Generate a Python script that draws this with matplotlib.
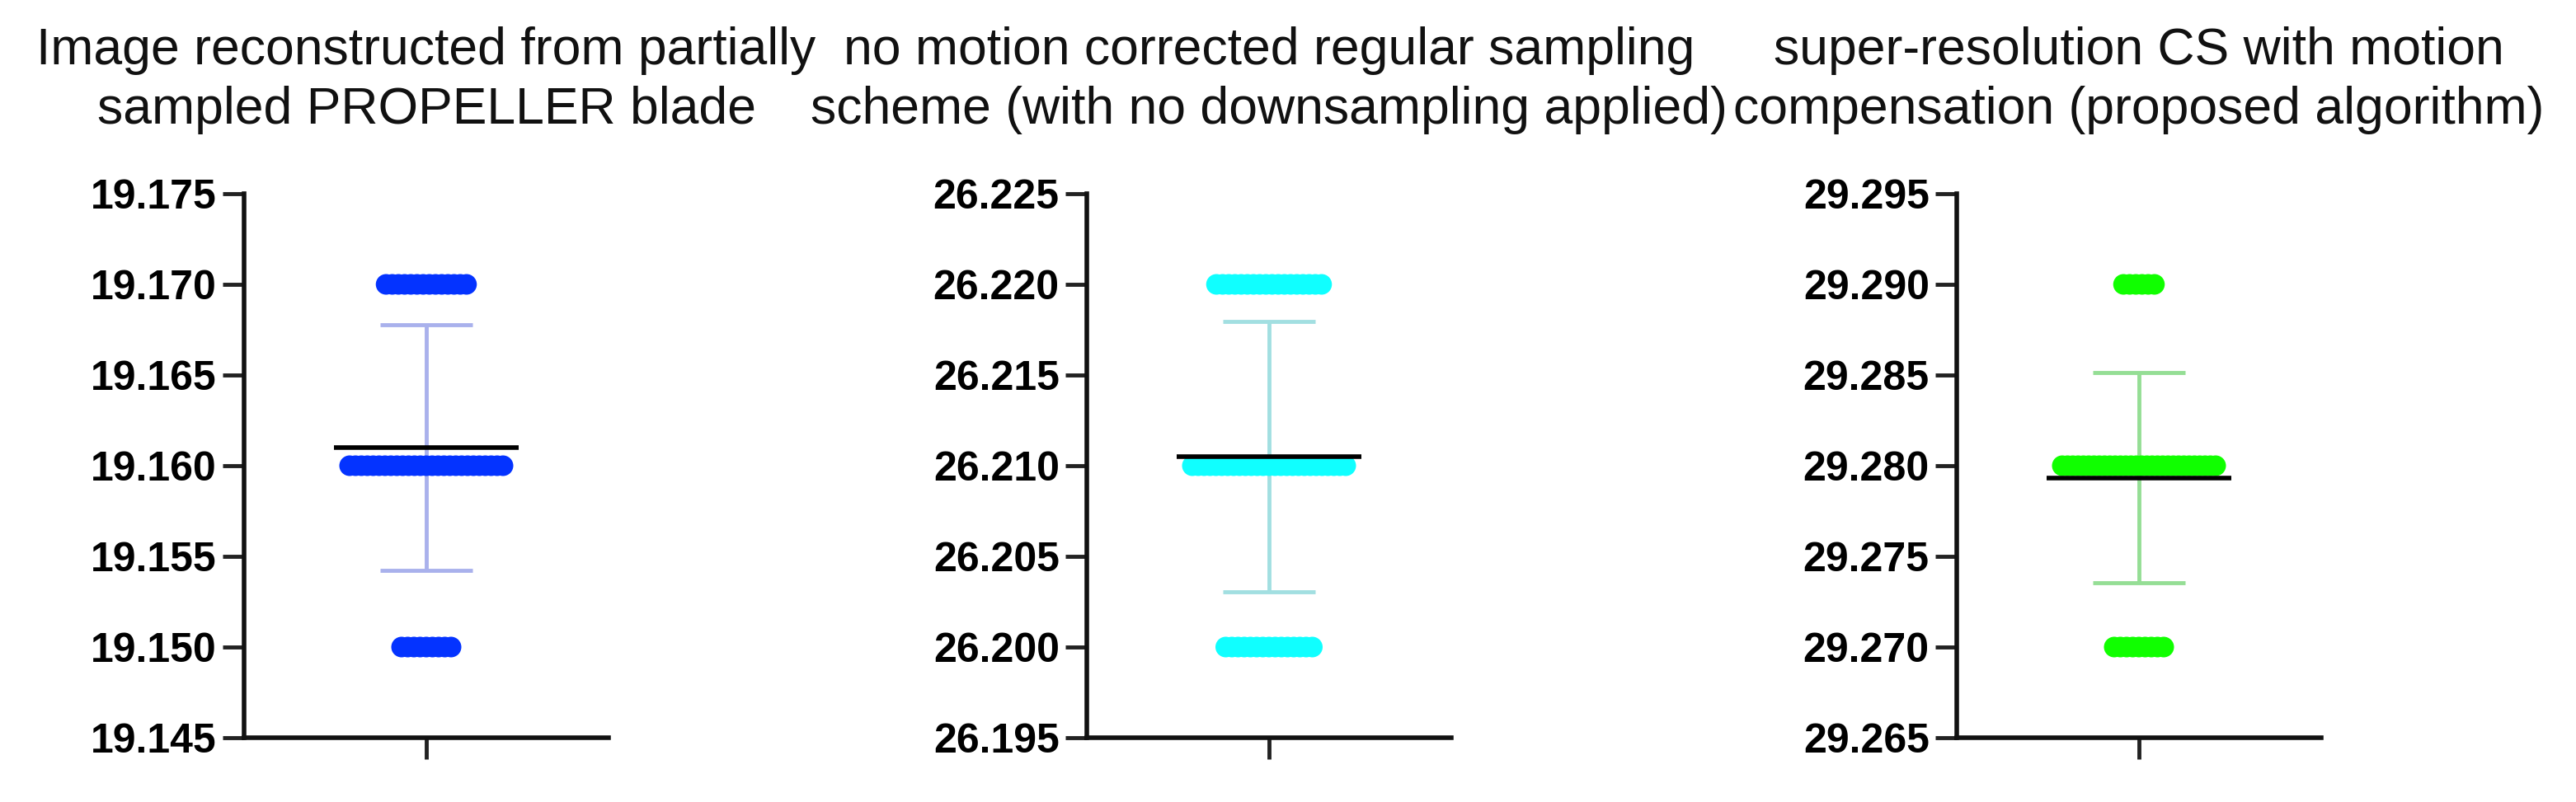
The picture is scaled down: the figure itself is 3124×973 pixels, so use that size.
import numpy as np
import matplotlib as mpl
mpl.use('Agg')
import matplotlib.pyplot as plt

plt.rcParams['font.family'] = ['Liberation Sans', 'DejaVu Sans']

# panel titles (two lines each)
titles = [
    ['Image reconstructed from partially', 'sampled PROPELLER blade'],
    ['no motion corrected regular sampling', 'scheme (with no downsampling applied)'],
    ['super-resolution CS with motion', 'compensation (proposed algorithm)'],
]

# discrete values taken by the measurements and how many of each
levels_1 = [19.150, 19.160, 19.170]
counts_1 = [9, 27, 14]
levels_2 = [26.200, 26.210, 26.220]
counts_2 = [15, 27, 18]
levels_3 = [29.270, 29.280, 29.290]
counts_3 = [9, 30, 6]

# y axis ranges / ticks
yticks_1 = [19.145, 19.150, 19.155, 19.160, 19.165, 19.170, 19.175]
yticks_2 = [26.195, 26.200, 26.205, 26.210, 26.215, 26.220, 26.225]
yticks_3 = [29.265, 29.270, 29.275, 29.280, 29.285, 29.290, 29.295]

colors = ['#0433FF', '#10FFFF', '#10FF00']
err_colors = ['#A9B1EC', '#A2DFE1', '#95DE95']

panels = [
    (levels_1, counts_1, yticks_1),
    (levels_2, counts_2, yticks_2),
    (levels_3, counts_3, yticks_3),
]

fig = plt.figure(figsize=(31.24, 9.73), dpi=100)
lefts = [296, 1318, 2373]
W, H = 3124.0, 973.0
ax_w = 442 / W
ax_b = 1 - 895 / H
ax_h = (895 - 235) / H

px = 2.0 / 442  # data units per pixel along x

for k, (levels, counts, yt) in enumerate(panels):
    ax = fig.add_axes([lefts[k] / W, ax_b, ax_w, ax_h])
    data = np.repeat(levels, counts)
    mean = data.mean()
    sd = data.std(ddof=1)

    # scatter: points with the same value are spread side by side
    for v, n in zip(levels, counts):
        step = min(7.5 * px, 186 * px / max(n - 1, 1))
        xs = (np.arange(n) - (n - 1) / 2.0) * step
        ax.scatter(xs, np.full(n, v), s=18 ** 2, color=colors[k],
                   edgecolors='none', zorder=3)

    # SD error bar
    ax.vlines(0, mean - sd, mean + sd, color=err_colors[k], lw=3.5, zorder=2)
    ax.hlines([mean - sd, mean + sd], -56 * px, 56 * px, color=err_colors[k], lw=3.5, zorder=2)
    # mean line
    ax.hlines(mean, -112 * px, 112 * px, color='black', lw=4, zorder=4)

    ax.set_xlim(-1, 1)
    ax.set_ylim(yt[0], yt[-1])
    ax.set_yticks(yt)
    ax.set_yticklabels(['%.3f' % t for t in yt], fontsize=36, fontweight='bold')
    ax.set_xticks([0])
    ax.set_xticklabels([''])
    for s in ['top', 'right']:
        ax.spines[s].set_visible(False)
    for s in ['left', 'bottom']:
        ax.spines[s].set_linewidth(4)
        ax.spines[s].set_color('#111111')
    ax.tick_params(axis='both', length=19, width=3.5, color='#222222', pad=5)

    # title, centred on the axes
    cx = (lefts[k] + 221) / W
    fig.text(cx, 1 - 78 / H, titles[k][0], ha='center', va='baseline', fontsize=45, color='#111111')
    fig.text(cx, 1 - 150 / H, titles[k][1], ha='center', va='baseline', fontsize=45, color='#111111')

plt.savefig('out.png', dpi=100)
plt.close()
